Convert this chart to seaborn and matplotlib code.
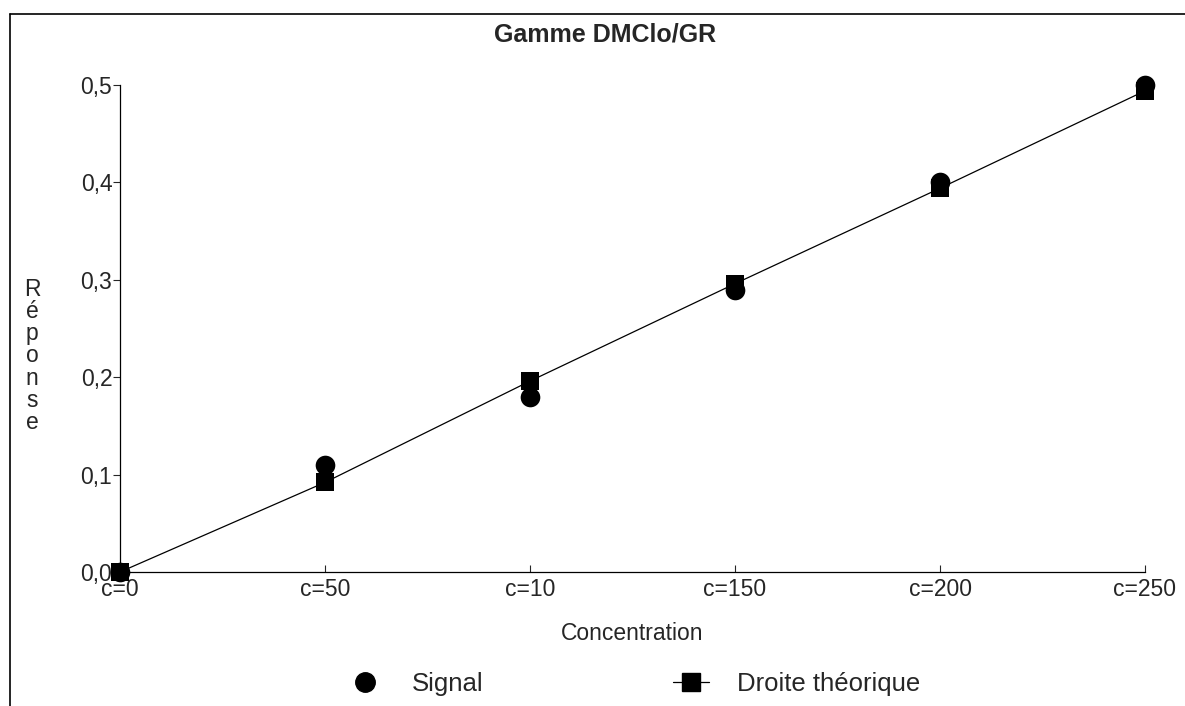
import matplotlib
matplotlib.use("Agg")
import matplotlib.pyplot as plt
import seaborn as sns
import pandas as pd
from matplotlib.lines import Line2D

categories = ["c=0", "c=50", "c=10", "c=150", "c=200", "c=250"]
signal = [0.0, 0.11, 0.18, 0.29, 0.40, 0.50]
droite = [0.0, 0.092, 0.196, 0.296, 0.394, 0.494]
yticks = [0.0, 0.1, 0.2, 0.3, 0.4, 0.5]
ytick_labels = ["0,0", "0,1", "0,2", "0,3", "0,4", "0,5"]

sns.set_style("white")
plt.rcParams['font.family'] = ['Liberation Sans', 'DejaVu Sans']

df = pd.DataFrame({"cat": categories, "signal": signal, "droite": droite})

W, H = 1185, 706
FS = 16.5
fig = plt.figure(figsize=(W / 100, H / 100), dpi=100)
ax = fig.add_axes([120 / W, 1 - 572 / H, (1145 - 120) / W, (572 - 85) / H])

sns.lineplot(data=df, x="cat", y="droite", ax=ax, color="black", linewidth=0.9,
             marker="s", markersize=13, markeredgewidth=0, sort=False, clip_on=False, zorder=3)
sns.scatterplot(data=df, x="cat", y="signal", ax=ax, color="black", marker="o",
                s=200, edgecolor="black", linewidth=0, clip_on=False, zorder=2)

ax.set_xlim(0, 5)
ax.set_ylim(0, 0.5)
ax.set_yticks(yticks)
ax.set_yticklabels(ytick_labels, fontsize=FS)
ax.set_xticks(range(len(categories)))
ax.set_xticklabels(categories, fontsize=FS)
ax.tick_params(axis="y", direction="out", length=5, width=0.8, pad=0.5, left=True)
ax.tick_params(axis="x", direction="in", length=5, width=0.8, pad=4, bottom=True)
ax.set_xlabel("")
ax.set_ylabel("")
for s in ["top", "right"]:
    ax.spines[s].set_visible(False)
for s in ["left", "bottom"]:
    ax.spines[s].set_color("black")
    ax.spines[s].set_linewidth(0.9)

fig.text(605 / W, 1 - 35 / H, "Gamme DMClo/GR", ha="center", va="center",
         fontsize=18, fontweight="bold")
fig.text(632 / W, 1 - 633 / H, "Concentration", ha="center", va="center", fontsize=FS)
fig.text(32 / W, 1 - 356 / H, "R\né\np\no\nn\ns\ne", ha="center", va="center",
         fontsize=FS, linespacing=0.95)

handles = [
    Line2D([], [], color="black", marker="o", linestyle="none", markersize=14),
    Line2D([], [], color="black", marker="s", linestyle="-", linewidth=0.9, markersize=13),
]
fig.legend(handles, ["Signal", "Droite théorique"], loc="center",
           bbox_to_anchor=(634 / W, 1 - 684 / H), ncol=2, frameon=False,
           fontsize=18.5, handlelength=1.4, handletextpad=1.1, columnspacing=7.4)

# outer frame
fig.add_artist(Line2D([10 / W, 10 / W], [0, 1 - 14 / H], transform=fig.transFigure,
                      color="black", linewidth=1.2))
fig.add_artist(Line2D([10 / W, 1], [1 - 14 / H, 1 - 14 / H], transform=fig.transFigure,
                      color="black", linewidth=1.2))

fig.savefig("out.png", dpi=100)
